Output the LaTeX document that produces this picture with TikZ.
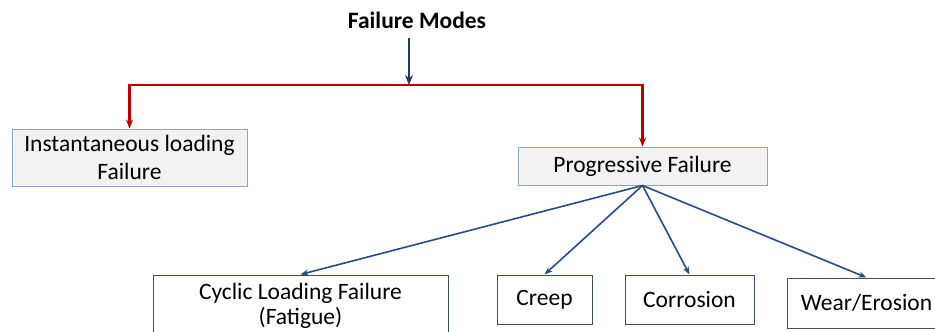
\documentclass[tikz,border=0pt]{standalone}
\usepackage{fontspec}
\setmainfont{Carlito}
\usepackage{tikz}
\usetikzlibrary{arrows.meta}

\definecolor{busred}{HTML}{C00000}
\definecolor{navy}{HTML}{1F3864}
\definecolor{linkblue}{HTML}{2B4A7E}
\definecolor{topedge}{HTML}{8DA6C0}
\definecolor{lowedge}{HTML}{3E4F6B}

\begin{document}
\begin{tikzpicture}[x=1pt,y=1pt,
  font=\fontsize{23.5}{28}\selectfont,
  topbox/.style={rectangle,fill=black!5,draw=topedge,line width=1pt,inner sep=0pt,align=center},
  lowbox/.style={rectangle,fill=white,draw=lowedge,line width=1pt,inner sep=0pt,align=center},
  busline/.style={draw=busred,line width=2.2pt,{Stealth[length=9pt,width=7pt]}-{Stealth[length=9pt,width=7pt]}},
  link/.style={draw=linkblue,line width=1.6pt,-{Stealth[length=8pt,width=6pt]}}]
\useasboundingbox (0,0) rectangle (935,-332);
\node[font=\fontsize{23.5}{28}\selectfont\bfseries,inner sep=0pt,anchor=base] (title) at (417,-28) {Failure Modes};
\node[topbox,minimum width=235pt,minimum height=57pt] (inst) at (129.5,-157.5) {Instantaneous loading\\Failure};
\node[topbox,minimum width=249pt,minimum height=38pt] (prog) at (642.5,-166) {Progressive Failure};
\node[lowbox,minimum width=295pt,minimum height=62pt,font=\fontsize{23.5}{25.5}\selectfont] (cyclic) at (300.5,-306) {Cyclic Loading Failure\\(Fatigue)};
\node[lowbox,minimum width=95pt,minimum height=49pt] (creep) at (544.5,-299.5) {Creep};
\node[lowbox,minimum width=129pt,minimum height=49pt] (corr) at (689.5,-299.5) {Corrosion};
\node[lowbox,minimum width=159pt,minimum height=50pt] (wear) at (866.5,-303) {Wear/Erosion};
\coordinate (bus) at (409,-85);
% feed from the heading
\draw[draw=navy,line width=2.6pt,-{Stealth[length=10pt,width=8pt]},shorten <=10pt] (title.south -| bus) -- (bus);
\draw[busline] (inst.north) |- (bus) -| (prog.north);
% progressive modes
\draw[link] (prog.south) -- (cyclic.north);
\draw[link] (prog.south) -- (creep.north);
\draw[link] (prog.south) -- (corr.north);
\draw[link] (prog.south) -- (wear.north);
\end{tikzpicture}
\end{document}
